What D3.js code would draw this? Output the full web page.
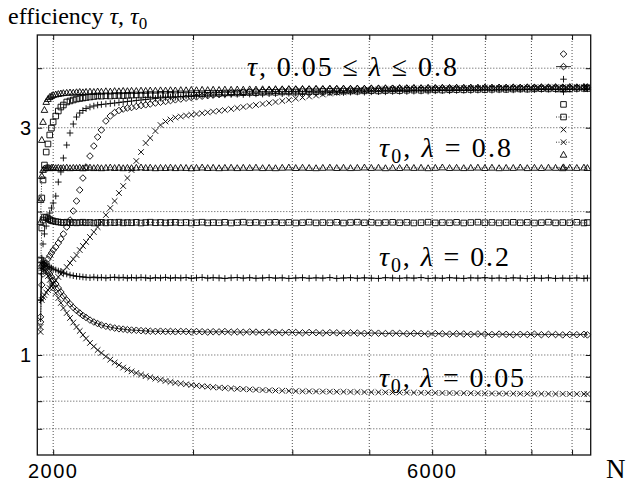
<!DOCTYPE html>
<html>
<head>
<meta charset="utf-8">
<script src="https://cdn.jsdelivr.net/npm/d3@7"></script>
<style>
  body { margin: 0; background: #fff; }
  svg { display: block; }
</style>
</head>
<body>
<svg id="chart" width="628" height="488"></svg>
<script>
// Sample sizes N (shared by every series)
const sampleN = [1928,1935,1942,1950,1960,1970,1980,1990,2000,2015,2030,2045,2060,2080,2100,2120,2140,2160,2180,2200,
  2225,2250,2275,2300,2330,2360,2390,2420,2450,2480,2510,2545,2580,2615,2650,2690,2730,2770,2810,2850,
  2895,2940,2985,3030,3080,3130,3180,3235,3290,3350,3410,3470,3535,3600,3670,3740,3810,3885,3960,4040,
  4120,4200,4285,4370,4460,4550,4640,4735,4830,4930,5030,5135,5240,5350,5460,5575,5690,5810,5930,6055,
  6180,6310,6440,6575,6710,6850,6990,7135,7285,7435,7590,7745,7905,8070,8235,8405,8580,8760,8940,9125,
  9315,9410];

// efficiency tau (points only)
const tauL005 = [1.145,1.304,1.324,1.336,1.353,1.369,1.382,1.396,1.409,1.433,1.458,1.479,1.501,1.530,1.560,1.590,1.621,1.661,1.694,1.727,
  1.769,1.812,1.856,1.902,1.967,2.035,2.105,2.188,2.263,2.352,2.445,2.554,2.667,2.786,2.854,2.952,3.039,3.091,3.121,3.151,
  3.167,3.182,3.193,3.205,3.218,3.230,3.243,3.255,3.268,3.284,3.300,3.316,3.332,3.348,3.364,3.380,3.397,3.413,3.430,3.455,
  3.471,3.488,3.505,3.522,3.539,3.553,3.565,3.577,3.588,3.596,3.603,3.610,3.616,3.619,3.622,3.625,3.623,3.627,3.629,3.627,
  3.631,3.633,3.631,3.635,3.637,3.635,3.639,3.640,3.638,3.642,3.643,3.641,3.645,3.646,3.644,3.648,3.649,3.647,3.651,3.652,
  3.650,3.653];
const tauL01 = [1.202,1.403,1.479,1.523,1.560,1.590,1.614,1.637,1.661,1.685,1.718,1.752,1.795,1.856,1.920,2.006,2.105,2.220,2.352,2.481,
  2.616,2.746,2.868,2.967,3.099,3.174,3.229,3.260,3.283,3.300,3.308,3.324,3.340,3.351,3.364,3.380,3.393,3.406,3.420,3.433,
  3.446,3.460,3.471,3.483,3.493,3.503,3.513,3.524,3.534,3.544,3.555,3.564,3.572,3.581,3.588,3.595,3.600,3.605,3.607,3.611,
  3.609,3.613,3.616,3.614,3.618,3.620,3.618,3.622,3.624,3.622,3.626,3.628,3.626,3.630,3.629,3.632,3.634,3.632,3.635,3.634,
  3.637,3.636,3.639,3.637,3.640,3.639,3.642,3.640,3.643,3.642,3.645,3.643,3.646,3.645,3.647,3.646,3.648,3.647,3.650,3.648,
  3.651,3.650];
const tauL02 = [1.304,1.598,1.710,1.795,1.865,1.930,1.986,2.035,2.085,2.156,2.307,2.422,2.591,2.759,2.924,3.054,3.159,3.221,3.260,3.291,
  3.315,3.332,3.348,3.356,3.364,3.372,3.380,3.389,3.397,3.405,3.413,3.422,3.430,3.438,3.446,3.455,3.463,3.471,3.480,3.478,
  3.488,3.497,3.495,3.505,3.513,3.512,3.516,3.519,3.516,3.522,3.525,3.522,3.530,3.533,3.530,3.536,3.539,3.536,3.542,3.545,
  3.542,3.550,3.553,3.550,3.556,3.559,3.556,3.562,3.565,3.562,3.568,3.571,3.568,3.574,3.577,3.574,3.580,3.583,3.580,3.586,
  3.589,3.586,3.592,3.595,3.592,3.598,3.600,3.597,3.603,3.605,3.602,3.607,3.609,3.606,3.611,3.613,3.610,3.615,3.617,3.614,
  3.619,3.620];
const tauL04 = [1.583,2.136,2.330,2.505,2.667,2.773,2.896,2.995,3.084,3.174,3.252,3.315,3.348,3.397,3.414,3.430,3.446,3.455,3.463,3.471,
  3.480,3.488,3.497,3.495,3.500,3.497,3.503,3.506,3.503,3.509,3.512,3.515,3.512,3.518,3.521,3.518,3.524,3.527,3.524,3.530,
  3.533,3.530,3.536,3.539,3.536,3.542,3.545,3.542,3.548,3.550,3.547,3.553,3.556,3.553,3.559,3.562,3.559,3.565,3.567,3.564,
  3.570,3.572,3.569,3.575,3.577,3.574,3.580,3.582,3.579,3.585,3.587,3.584,3.590,3.592,3.589,3.595,3.597,3.594,3.600,3.602,
  3.599,3.604,3.606,3.603,3.608,3.610,3.607,3.612,3.614,3.611,3.616,3.618,3.615,3.620,3.622,3.619,3.624,3.626,3.623,3.627,
  3.629,3.626];
const tauL08 = [2.115,2.827,3.084,3.268,3.397,3.446,3.479,3.496,3.513,3.522,3.530,3.539,3.545,3.550,3.556,3.552,3.560,3.565,3.558,3.566,
  3.570,3.565,3.573,3.569,3.577,3.572,3.580,3.576,3.583,3.579,3.585,3.582,3.588,3.584,3.590,3.587,3.593,3.589,3.595,3.591,
  3.597,3.594,3.600,3.596,3.602,3.598,3.604,3.600,3.606,3.603,3.608,3.605,3.610,3.607,3.612,3.609,3.614,3.611,3.616,3.613,
  3.618,3.615,3.620,3.617,3.622,3.619,3.624,3.621,3.626,3.623,3.628,3.625,3.630,3.627,3.632,3.629,3.634,3.631,3.636,3.633,
  3.637,3.634,3.639,3.636,3.640,3.637,3.642,3.639,3.643,3.640,3.645,3.642,3.646,3.643,3.648,3.645,3.649,3.646,3.650,3.647,
  3.651,3.648];

// reference efficiency tau0 (lines and points)
const tau0L005 = [1.118,1.523,1.537,1.523,1.494,1.465,1.437,1.409,1.382,1.349,1.317,1.286,1.255,1.225,1.196,1.170,1.145,1.123,1.102,1.083,
  1.060,1.042,1.024,1.010,0.993,0.978,0.964,0.953,0.941,0.932,0.924,0.917,0.910,0.903,0.898,0.892,0.887,0.882,0.878,0.874,
  0.871,0.868,0.865,0.8625,0.860,0.858,0.856,0.8542,0.8525,0.8509,0.8492,0.848,0.8468,0.8455,0.8443,0.8431,0.8423,0.8415,0.8407,0.8399,
  0.8391,0.839,0.8385,0.8381,0.8377,0.8373,0.837,0.8366,0.8362,0.8358,0.8355,0.8352,0.8349,0.8345,0.8342,0.8339,0.8336,0.8333,0.833,0.8327,
  0.8324,0.8321,0.8318,0.8315,0.8312,0.8309,0.8306,0.8303,0.8301,0.8299,0.8297,0.8295,0.8293,0.8291,0.8289,0.8288,0.8286,0.8285,0.8284,0.8283,
  0.8282,0.8281];
const tau0L01 = [1.173,1.537,1.552,1.545,1.523,1.501,1.479,1.458,1.437,1.409,1.382,1.356,1.330,1.304,1.280,1.258,1.240,1.225,1.210,1.199,
  1.184,1.173,1.164,1.156,1.149,1.144,1.139,1.135,1.133,1.130,1.128,1.127,1.125,1.123,1.122,1.121,1.122,1.120,1.121,1.119,
  1.121,1.120,1.118,1.120,1.119,1.117,1.119,1.118,1.120,1.117,1.118,1.116,1.118,1.117,1.115,1.117,1.116,1.114,1.116,1.115,
  1.113,1.115,1.114,1.112,1.114,1.113,1.111,1.113,1.112,1.110,1.112,1.111,1.109,1.111,1.110,1.108,1.110,1.109,1.107,1.109,
  1.108,1.106,1.108,1.107,1.105,1.107,1.106,1.104,1.106,1.105,1.103,1.105,1.104,1.106,1.103,1.105,1.104,1.102,1.104,1.103,
  1.105,1.102];
const tau0L02 = [1.304,1.567,1.567,1.560,1.552,1.537,1.530,1.523,1.515,1.508,1.501,1.494,1.486,1.479,1.472,1.467,1.463,1.461,1.458,1.456,
  1.453,1.457,1.452,1.455,1.451,1.454,1.456,1.452,1.455,1.450,1.454,1.451,1.455,1.452,1.449,1.453,1.451,1.455,1.450,1.453,
  1.451,1.454,1.449,1.452,1.455,1.450,1.453,1.451,1.448,1.452,1.454,1.450,1.453,1.449,1.451,1.454,1.450,1.452,1.448,1.451,
  1.453,1.449,1.452,1.450,1.454,1.448,1.451,1.453,1.449,1.452,1.450,1.448,1.453,1.451,1.449,1.452,1.450,1.454,1.448,1.451,
  1.449,1.453,1.450,1.448,1.452,1.450,1.453,1.449,1.451,1.448,1.452,1.450,1.447,1.451,1.449,1.452,1.448,1.450,1.449,1.451,
  1.448,1.450];
const tau0L04 = [1.501,1.847,1.920,1.948,1.943,1.933,1.924,1.915,1.911,1.906,1.902,1.899,1.896,1.900,1.895,1.898,1.894,1.897,1.900,1.895,
  1.898,1.893,1.897,1.899,1.894,1.898,1.896,1.900,1.894,1.897,1.895,1.899,1.893,1.897,1.900,1.895,1.898,1.894,1.897,1.899,
  1.895,1.898,1.893,1.896,1.900,1.894,1.897,1.895,1.899,1.893,1.897,1.900,1.895,1.898,1.894,1.897,1.899,1.895,1.898,1.893,
  1.896,1.900,1.894,1.897,1.895,1.899,1.893,1.897,1.900,1.895,1.898,1.894,1.897,1.899,1.895,1.898,1.893,1.896,1.900,1.894,
  1.897,1.895,1.899,1.893,1.897,1.900,1.895,1.898,1.894,1.897,1.899,1.895,1.898,1.893,1.896,1.900,1.894,1.897,1.895,1.899,
  1.893,1.897];
const tau0L08 = [1.902,2.375,2.445,2.463,2.468,2.472,2.466,2.470,2.474,2.467,2.471,2.465,2.469,2.473,2.466,2.470,2.468,2.472,2.465,2.469,
  2.473,2.467,2.471,2.466,2.470,2.474,2.468,2.472,2.466,2.470,2.467,2.471,2.475,2.469,2.472,2.466,2.470,2.468,2.473,2.467,
  2.471,2.469,2.465,2.470,2.474,2.468,2.471,2.466,2.470,2.472,2.467,2.471,2.469,2.473,2.467,2.470,2.466,2.471,2.474,2.468,
  2.472,2.469,2.466,2.470,2.473,2.468,2.471,2.467,2.470,2.474,2.469,2.472,2.466,2.470,2.468,2.473,2.469,2.471,2.466,2.470,
  2.475,2.468,2.471,2.467,2.470,2.473,2.468,2.472,2.466,2.470,2.469,2.474,2.467,2.471,2.468,2.472,2.470,2.466,2.471,2.469,
  2.473,2.468];

// axis ticks and grid
const xTickLabels = [2000, 6000];
const xGridValues = [2000, 3000, 4000, 5000, 6000, 7000, 8000, 9000];
const yTickLabels = [1, 3];
const yGridValues = [0.7, 0.8, 0.9, 1, 2, 3, 4];

// series: marker symbol, values, whether joined by a line, line dash
const seriesList = [
  { marker: "diamond",  values: tauL01,   line: null },
  { marker: "diamond",  values: tau0L01,  line: "solid" },
  { marker: "plus",     values: tauL02,   line: null },
  { marker: "plus",     values: tau0L02,  line: "solid" },
  { marker: "square",   values: tauL04,   line: null },
  { marker: "square",   values: tau0L04,  line: "dotted" },
  { marker: "cross",    values: tauL005,  line: null },
  { marker: "cross",    values: tau0L005, line: "dotted" },
  { marker: "triangle", values: tauL08,   line: null },
  { marker: "triangle", values: tau0L08,  line: "dotted" }
];

const svg = d3.select("#chart");
const plotLeft = 37.3, plotRight = 590.7, plotTop = 35, plotBottom = 455;

const x = d3.scaleLog().domain([1910, 9500]).range([plotLeft, plotRight]);
const y = d3.scaleLog().domain([0.6167, 4.696]).range([plotBottom, plotTop]);

const serif = "'Liberation Serif', 'Times New Roman', serif";
const sans = "'Liberation Sans', Arial, sans-serif";

// grid
const grid = svg.append("g").attr("stroke", "#222").attr("stroke-width", 0.8)
  .attr("stroke-dasharray", "1,2").attr("fill", "none");
grid.append("g").selectAll("line").data(xGridValues).join("line")
  .attr("x1", d => x(d)).attr("x2", d => x(d)).attr("y1", plotTop).attr("y2", plotBottom);
grid.append("g").selectAll("line").data(yGridValues).join("line")
  .attr("y1", d => y(d)).attr("y2", d => y(d)).attr("x1", plotLeft).attr("x2", plotRight);

// marker shapes
function markerPath(kind) {
  switch (kind) {
    case "diamond":  return "M0,-3.3L3.3,0L0,3.3L-3.3,0Z";
    case "plus":     return "M-3.3,0H3.3M0,-3.3V3.3";
    case "square":   return "M-2.8,-2.8H2.8V2.8H-2.8Z";
    case "cross":    return "M-2.8,-2.8L2.8,2.8M-2.8,2.8L2.8,-2.8";
    case "triangle": return "M0,-3.5L3.3,2.4H-3.3Z";
  }
}
const dashFor = { solid: null, dotted: "1,1.5" };

const plot = svg.append("g");
const lineGen = d3.line().x(d => x(d[0])).y(d => y(d[1]));

seriesList.forEach(s => {
  const pts = sampleN.map((n, i) => [n, s.values[i]]);
  if (s.line) {
    plot.append("path").datum(pts)
      .attr("d", lineGen).attr("fill", "none")
      .attr("stroke", "#000").attr("stroke-width", 0.8)
      .attr("stroke-dasharray", dashFor[s.line]);
  }
  plot.append("g").selectAll("path").data(pts).join("path")
    .attr("transform", d => `translate(${x(d[0])},${y(d[1])})`)
    .attr("d", markerPath(s.marker))
    .attr("fill", "none").attr("stroke", "#000").attr("stroke-width", 0.9);
});

// frame
svg.append("rect").attr("x", plotLeft).attr("y", plotTop)
  .attr("width", plotRight - plotLeft).attr("height", plotBottom - plotTop)
  .attr("fill", "none").attr("stroke", "#111").attr("stroke-width", 1.3);

// axes with inward ticks
const axB = d3.axisBottom(x).tickValues(xGridValues).tickSizeInner(-5).tickSizeOuter(0).tickFormat("");
const axT = d3.axisTop(x).tickValues(xGridValues).tickSizeInner(-5).tickSizeOuter(0).tickFormat("");
const axL = d3.axisLeft(y).tickValues(yGridValues).tickSizeInner(-5).tickSizeOuter(0).tickFormat("");
const axR = d3.axisRight(y).tickValues(yGridValues).tickSizeInner(-5).tickSizeOuter(0).tickFormat("");
[[axB, `translate(0,${plotBottom})`], [axT, `translate(0,${plotTop})`],
 [axL, `translate(${plotLeft},0)`], [axR, `translate(${plotRight},0)`]].forEach(([ax, tr]) => {
  const g = svg.append("g").attr("transform", tr).call(ax);
  g.select(".domain").remove();
  g.selectAll("line").attr("stroke", "#111").attr("stroke-width", 1);
});

// tick labels
svg.append("g").selectAll("text").data(xTickLabels).join("text")
  .attr("x", d => x(d)).attr("y", 478)
  .attr("text-anchor", "middle")
  .attr("font-family", sans).attr("font-size", 20).attr("letter-spacing", 1.5)
  .text(d => d);
svg.append("g").selectAll("text").data(yTickLabels).join("text")
  .attr("x", 31).attr("y", d => y(d) + 7)
  .attr("text-anchor", "end")
  .attr("font-family", sans).attr("font-size", 20)
  .text(d => d);

// axis titles
const title = svg.append("text").attr("x", 8).attr("y", 24)
  .attr("font-family", serif).attr("font-size", 24);
title.append("tspan").text("efficiency ");
title.append("tspan").attr("font-style", "italic").text("τ");
title.append("tspan").text(", ");
title.append("tspan").attr("font-style", "italic").text("τ");
title.append("tspan").attr("font-size", 17).attr("dy", 5).text("0");

svg.append("text").attr("x", 606).attr("y", 478)
  .attr("font-family", serif).attr("font-size", 27).text("N");

// curve annotations
function tau0Label(xPos, yPos, lam, width) {
  const t = svg.append("text").attr("x", xPos).attr("y", yPos)
    .attr("font-family", serif).attr("font-size", 28)
    .attr("textLength", width).attr("lengthAdjust", "spacing");
  t.append("tspan").attr("font-style", "italic").text("τ");
  t.append("tspan").attr("font-size", 20).attr("dy", 6).text("0");
  t.append("tspan").attr("dy", -6).text(", ");
  t.append("tspan").attr("font-style", "italic").text("λ");
  t.append("tspan").text(" = " + lam);
}
const mainLabel = svg.append("text").attr("x", 247).attr("y", 76)
  .attr("font-family", serif).attr("font-size", 28)
  .attr("textLength", 210).attr("lengthAdjust", "spacing");
mainLabel.append("tspan").attr("font-style", "italic").text("τ");
mainLabel.append("tspan").text(", 0.05 ≤ ");
mainLabel.append("tspan").attr("font-style", "italic").text("λ");
mainLabel.append("tspan").text(" ≤ 0.8");

tau0Label(379, 157, "0.8", 132);
tau0Label(379, 266, "0.2", 130);
tau0Label(379, 387, "0.05", 145);

// key (symbols only)
const keyKinds = ["diamond", "plus", "square", "cross", "triangle"];
const keyLines = ["solid", "solid", "dotted", "dotted", "dotted"];
const key = svg.append("g");
keyKinds.forEach((k, i) => {
  const y0 = 54 + i * 25.2, y1 = y0 + 12.6;
  key.append("path").attr("transform", `translate(563.5,${y0})`).attr("d", markerPath(k))
    .attr("fill", "none").attr("stroke", "#000").attr("stroke-width", 0.9);
  key.append("line").attr("x1", 556).attr("x2", 571).attr("y1", y1).attr("y2", y1)
    .attr("stroke", "#000").attr("stroke-width", 0.8).attr("stroke-dasharray", dashFor[keyLines[i]]);
  key.append("path").attr("transform", `translate(563.5,${y1})`).attr("d", markerPath(k))
    .attr("fill", "none").attr("stroke", "#000").attr("stroke-width", 0.9);
});
</script>
</body>
</html>
